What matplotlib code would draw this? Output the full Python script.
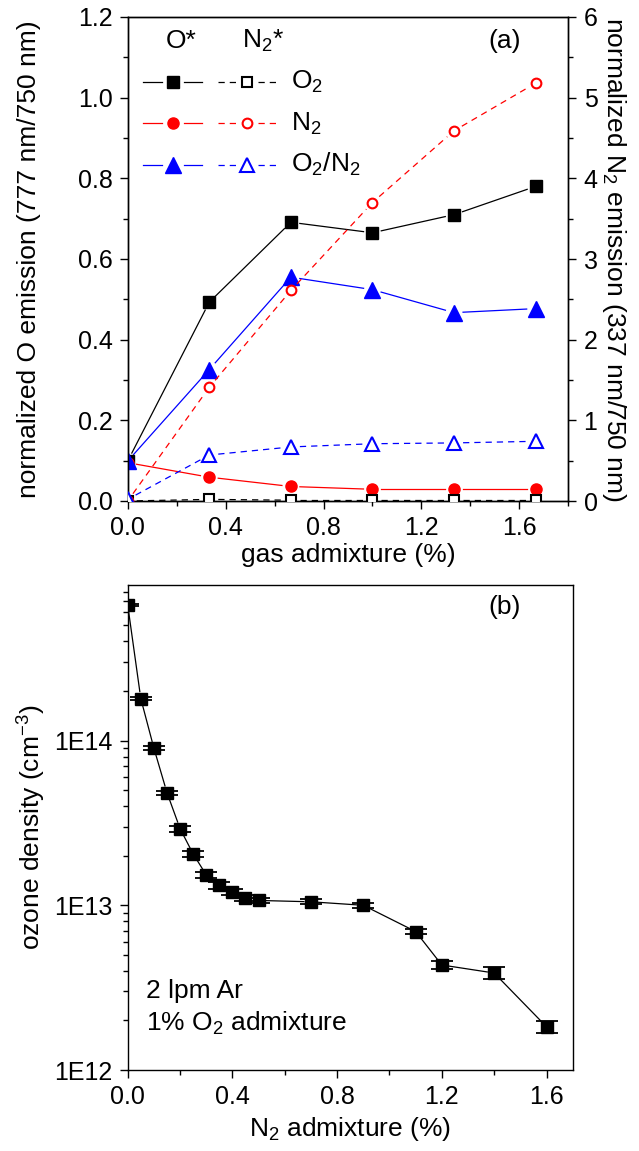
import numpy as np
import matplotlib
matplotlib.use("Agg")
import matplotlib.pyplot as plt
from matplotlib.lines import Line2D
from matplotlib.ticker import MultipleLocator, FixedLocator, FuncFormatter, LogLocator, NullFormatter

plt.rcParams['font.family'] = ['Liberation Sans', 'DejaVu Sans']
plt.rcParams['mathtext.default'] = 'regular'
plt.rcParams['axes.linewidth'] = 1.0
FS_TICK = 18
FS_LAB = 19

# ---- panel (a): emission ratios vs gas admixture ----
gas = [0.0, 1/3, 2/3, 1.0, 4/3, 5/3]
o_star_o2 = [0.099, 0.493, 0.691, 0.665, 0.710, 0.780]
o_star_n2 = [0.095, 0.059, 0.036, 0.029, 0.029, 0.029]
o_star_o2n2 = [0.099, 0.326, 0.555, 0.524, 0.467, 0.477]
n2_star_o2 = [0.0, 0.02, 0.01, 0.01, 0.01, 0.01]
n2_star_n2 = [0.0, 1.41, 2.61, 3.70, 4.59, 5.18]
n2_star_o2n2 = [0.02, 0.57, 0.67, 0.71, 0.72, 0.74]

# ---- panel (b): ozone density vs N2 admixture ----
n2_adm = [0.0, 0.05, 0.10, 0.15, 0.20, 0.25, 0.30, 0.35, 0.40, 0.45, 0.50,
          0.70, 0.90, 1.10, 1.20, 1.40, 1.60]
ozone = [6.66e14, 1.80e14, 9.0e13, 4.83e13, 2.92e13, 2.05e13, 1.53e13, 1.32e13,
         1.21e13, 1.11e13, 1.07e13, 1.05e13, 1.00e13, 6.93e12, 4.34e12, 3.88e12, 1.83e12]
ozone_err = [1.3e13, 3.6e12, 2.3e12, 1.4e12, 1.2e12, 0.8e12, 0.7e12, 0.6e12,
             0.5e12, 0.45e12, 0.4e12, 0.35e12, 0.35e12, 0.25e12, 0.25e12, 0.33e12, 0.16e12]

W, H = 639, 1151
fig = plt.figure(figsize=(W / 100, H / 100), dpi=100)

ax1 = fig.add_axes([127.7 / W, 1 - 501 / H, 440.6 / W, 484 / H])
ax2 = ax1.twinx()
ax3 = fig.add_axes([127.7 / W, 1 - 1070 / H, 445 / W, 485 / H])

lw = 0.9
dash = (0, (5, 4))
ms = 8
ms_tri = 11
GAP = 9  # pixels left open between a connecting line and each marker centre


def gapped_line(ax, x, y, gap=GAP, **kw):
    """Connect consecutive points, leaving a small gap around each marker."""
    pts = ax.transData.transform(np.column_stack([x, y]))
    inv = ax.transData.inverted()
    for p, q in zip(pts[:-1], pts[1:]):
        d = q - p
        length = np.hypot(*d)
        if length <= 2 * gap:
            continue
        u = d / length
        seg = inv.transform(np.array([p + u * gap, q - u * gap]))
        ax.plot(seg[:, 0], seg[:, 1], **kw)


# axis limits first so the data transforms are final
ax1.set_xlim(0, 1.8)
ax1.set_ylim(0, 1.2)
ax2.set_ylim(0, 6)
ax3.set_yscale('log')
ax3.set_xlim(0, 1.7)
ax3.set_ylim(1e12, 8.8e14)

# O* (left axis, solid lines)
for ys, col, mk, size in ((o_star_o2, 'black', 's', ms), (o_star_n2, 'red', 'o', ms),
                          (o_star_o2n2, 'blue', '^', ms_tri)):
    gapped_line(ax1, gas, ys, color=col, lw=lw, zorder=3)
    ax1.plot(gas, ys, linestyle='none', marker=mk, ms=size, mfc=col, mec=col, zorder=4)

# N2* (right axis, dashed lines)
for ys, col, mk, size in ((n2_star_o2, 'black', 's', ms - 1), (n2_star_n2, 'red', 'o', ms - 1),
                          (n2_star_o2n2, 'blue', '^', ms_tri - 1)):
    gapped_line(ax2, gas, ys, color=col, lw=lw, linestyle=dash, zorder=3)
    ax2.plot(gas, ys, linestyle='none', marker=mk, ms=size, mfc='white', mec=col, mew=1.5, zorder=4)

ax1.xaxis.set_major_locator(MultipleLocator(0.4))
ax1.xaxis.set_minor_locator(MultipleLocator(0.2))
ax1.yaxis.set_major_locator(MultipleLocator(0.2))
ax1.yaxis.set_minor_locator(MultipleLocator(0.1))
ax2.yaxis.set_major_locator(MultipleLocator(1))
ax2.yaxis.set_minor_locator(MultipleLocator(0.5))
ax1.xaxis.set_major_formatter(FuncFormatter(lambda v, p: f"{v:.1f}"))
ax1.yaxis.set_major_formatter(FuncFormatter(lambda v, p: f"{v:.1f}"))
ax2.yaxis.set_major_formatter(FuncFormatter(lambda v, p: f"{v:.0f}"))

for ax in (ax1, ax2, ax3):
    ax.tick_params(which='major', direction='out', length=6, width=1.0, labelsize=FS_TICK, pad=5)
    ax.tick_params(which='minor', direction='out', length=3.5, width=1.0)
ax1.tick_params(which='both', top=False, right=False)
ax2.tick_params(which='both', left=False, right=True, top=False)
ax3.tick_params(which='both', top=False, right=False)

ax1.set_xlabel('gas admixture (%)', fontsize=FS_LAB, labelpad=2)
ax1.set_ylabel('normalized O emission (777 nm/750 nm)', fontsize=FS_LAB, labelpad=26)
ax2.set_ylabel('normalized N$_2$ emission (337 nm/750 nm)', fontsize=FS_LAB, rotation=270, labelpad=22)

# hand-built legend: O* column (solid) and N2* column (dashed)
ax1.text(0.086, 0.95, 'O*', transform=ax1.transAxes, fontsize=FS_LAB, va='center', ha='left')
ax1.text(0.26, 0.95, 'N$_2$*', transform=ax1.transAxes, fontsize=FS_LAB, va='center', ha='left')
rows = [('black', 's', 'O$_2$', 0.865), ('red', 'o', 'N$_2$', 0.78), ('blue', '^', 'O$_2$/N$_2$', 0.695)]
for color, mk, label, yy in rows:
    big = ms_tri if mk == '^' else ms
    for (x0, xm, x1), filled, ls in (((0.034, 0.102, 0.169), True, '-'), ((0.204, 0.270, 0.338), False, dash)):
        gap = 0.025
        for xa, xb in ((x0, xm - gap), (xm + gap, x1)):
            ax1.add_line(Line2D([xa, xb], [yy, yy], transform=ax1.transAxes, color=color, lw=lw, linestyle=ls))
        ax1.add_line(Line2D([xm], [yy], transform=ax1.transAxes, marker=mk, linestyle='none',
                            ms=big if filled else big - 1, mfc=color if filled else 'white', mec=color,
                            mew=1.0 if filled else 1.5))
    ax1.text(0.37, yy, label, transform=ax1.transAxes, fontsize=FS_LAB, va='center', ha='left')

ax1.text(0.855, 0.95, '(a)', transform=ax1.transAxes, fontsize=FS_LAB, va='center', ha='center')

# ---- panel (b) ----
gapped_line(ax3, n2_adm, ozone, gap=7, color='black', lw=lw, zorder=3)
ax3.errorbar(n2_adm, ozone, yerr=ozone_err, fmt='s', color='black', ms=8,
             mfc='black', mec='black', capsize=8, capthick=1.3, elinewidth=1.0, zorder=4)
ax3.xaxis.set_major_locator(MultipleLocator(0.4))
ax3.xaxis.set_minor_locator(MultipleLocator(0.2))
ax3.xaxis.set_major_formatter(FuncFormatter(lambda v, p: f"{v:.1f}"))
ax3.yaxis.set_major_locator(FixedLocator([1e12, 1e13, 1e14]))
ax3.yaxis.set_major_formatter(FuncFormatter(lambda v, p: f"1E{int(round(np.log10(v)))}"))
ax3.yaxis.set_minor_locator(LogLocator(base=10, subs=np.arange(2, 10)))
ax3.yaxis.set_minor_formatter(NullFormatter())
ax3.set_xlabel('N$_2$ admixture (%)', fontsize=FS_LAB, labelpad=4)
ax3.set_ylabel('ozone density (cm$^{-3}$)', fontsize=FS_LAB, labelpad=4)

ax3.text(0.847, 0.954, '(b)', transform=ax3.transAxes, fontsize=FS_LAB, va='center', ha='center')
ax3.text(0.041, 0.162, '2 lpm Ar', transform=ax3.transAxes, fontsize=FS_LAB, va='center', ha='left')
ax3.text(0.041, 0.096, '1% O$_2$ admixture', transform=ax3.transAxes, fontsize=FS_LAB, va='center', ha='left')

fig.savefig('out.png', dpi=100)
